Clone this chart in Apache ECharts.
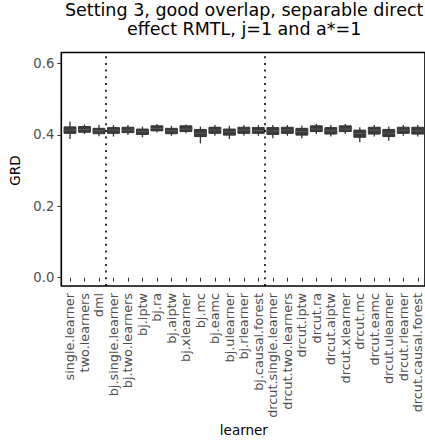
<!DOCTYPE html>
<html><head><meta charset="utf-8">
<script src="https://cdn.jsdelivr.net/npm/echarts@6/dist/echarts.min.js"></script>
<style>html,body{margin:0;padding:0;background:#fff}#c{width:425px;height:444px;overflow:hidden}</style>
</head><body><div id="c"></div><script>
const learners = ['single.learner','two.learners','dml','bj.single.learner','bj.two.learners','bj.iptw','bj.ra','bj.aiptw','bj.xlearner','bj.mc','bj.eamc','bj.ulearner','bj.rlearner','bj.causal.forest','drcut.single.learner','drcut.two.learners','drcut.iptw','drcut.ra','drcut.aiptw','drcut.xlearner','drcut.mc','drcut.eamc','drcut.ulearner','drcut.rlearner','drcut.causal.forest'];
const grdMin = [0.388,0.402,0.396,0.395,0.399,0.393,0.406,0.397,0.404,0.376,0.397,0.388,0.397,0.397,0.390,0.397,0.390,0.402,0.395,0.402,0.379,0.395,0.383,0.397,0.395];
const grdQ1  = [0.404,0.407,0.403,0.404,0.406,0.401,0.411,0.403,0.409,0.395,0.404,0.399,0.404,0.404,0.401,0.404,0.399,0.409,0.402,0.409,0.393,0.402,0.395,0.404,0.402];
const grdMed = [0.413,0.415,0.411,0.413,0.413,0.409,0.418,0.411,0.416,0.404,0.413,0.409,0.413,0.412,0.411,0.413,0.409,0.416,0.411,0.416,0.404,0.413,0.404,0.413,0.411];
const grdQ3  = [0.422,0.423,0.418,0.420,0.421,0.416,0.425,0.418,0.425,0.415,0.421,0.416,0.421,0.420,0.420,0.421,0.418,0.425,0.420,0.425,0.413,0.421,0.415,0.421,0.421];
const grdMax = [0.437,0.429,0.427,0.427,0.427,0.423,0.430,0.425,0.429,0.423,0.427,0.425,0.427,0.427,0.427,0.427,0.425,0.430,0.427,0.430,0.421,0.427,0.423,0.427,0.427];
const yMin = 0, yMax = 0.6, yStep = 0.2;
const separators = [2.5, 13.5];
const titleLines = ['Setting 3, good overlap, separable direct', 'effect RMTL, j=1 and a*=1'];
const xTitle = 'learner', yTitle = 'GRD';

const FONT = '"DejaVu Sans", sans-serif';
const TITLE_FONT = '17.5px ' + FONT;
const W = 425;
// frame geometry (ggplot panel with 0.6 expansion on a discrete axis)
const frameL = 61.3, frameR = 427, frameT = 52.5, frameB = 286;
const unit = (frameR - frameL) / (learners.length + 0.2);
const dataL = frameL + 0.1 * unit, dataR = dataL + learners.length * unit;
const dataT = 63.3, dataB = 277.7;

const boxData = learners.map((n, i) => [i, grdMin[i], grdQ1[i], grdMed[i], grdQ3[i], grdMax[i]]);

// title is centred on the panel; text running past the window edge is cut off (as in the reference)
const ctx = document.createElement('canvas').getContext('2d');
ctx.font = TITLE_FONT;
const titleCenter = (frameL + frameR) / 2;
function fitTitle(t) {
  const left = titleCenter - ctx.measureText(t).width / 2;
  let s = t;
  while (s.length && left + ctx.measureText(s).width > W - 1) s = s.slice(0, -1);
  return {text: s, left: left};
}

const chart = echarts.init(document.getElementById('c'), null, {renderer: 'svg'});
chart.setOption({
  animation: false,
  backgroundColor: '#fff',
  graphic: titleLines.map((t, k) => {
    const f = fitTitle(t);
    return {type: 'text', x: f.left, y: 1 + k * 18.5, silent: true,
      style: {text: f.text, fill: '#000', font: TITLE_FONT, textAlign: 'left', textVerticalAlign: 'top'}};
  }),
  grid: [
    {left: frameL, top: frameT, width: frameR - frameL, height: frameB - frameT, show: true, borderColor: '#000', borderWidth: 1.6, backgroundColor: 'transparent'},
    {left: dataL, top: dataT, width: dataR - dataL, height: dataB - dataT}
  ],
  xAxis: [
    {gridIndex: 0, type: 'value', min: -0.6, max: learners.length - 0.4, show: false},
    {gridIndex: 1, type: 'category', data: learners, boundaryGap: true, offset: frameB - dataB,
     axisLine: {show: false}, axisTick: {show: true, alignWithLabel: true, length: 4, lineStyle: {color: '#333', width: 1}},
     axisLabel: {rotate: 90, interval: 0, margin: 7, fontSize: 12.8, fontFamily: FONT, color: '#4d4d4d'},
     splitLine: {show: false},
     name: xTitle, nameLocation: 'middle', nameGap: 137, nameTextStyle: {fontSize: 13.5, fontFamily: FONT, color: '#000'}}
  ],
  yAxis: [
    {gridIndex: 0, type: 'value', min: 0, max: 1, show: false},
    {gridIndex: 1, type: 'value', min: yMin, max: yMax, interval: yStep, offset: dataL - frameL,
     axisLine: {show: false}, axisTick: {show: true, length: 4, lineStyle: {color: '#333', width: 1}},
     axisLabel: {margin: 7, fontSize: 13.2, fontFamily: FONT, color: '#4d4d4d', formatter: v => v.toFixed(1)},
     splitLine: {show: false},
     name: yTitle, nameLocation: 'middle', nameGap: 33, nameTextStyle: {fontSize: 13.5, fontFamily: FONT, color: '#000'}}
  ],
  series: [
    {type: 'line', xAxisIndex: 0, yAxisIndex: 0, data: [], silent: true,
     markLine: {silent: true, symbol: ['none', 'none'], label: {show: false},
       lineStyle: {color: '#000', type: [2, 4.7], width: 1.6},
       data: separators.map(s => ({xAxis: s}))}},
    {type: 'custom', xAxisIndex: 1, yAxisIndex: 1, data: boxData,
     encode: {x: 0, y: [1, 2, 3, 4, 5]},
     renderItem: function (params, api) {
       const i = api.value(0);
       const pMin = api.coord([i, api.value(1)]);
       const pQ1 = api.coord([i, api.value(2)]);
       const pMed = api.coord([i, api.value(3)]);
       const pQ3 = api.coord([i, api.value(4)]);
       const pMax = api.coord([i, api.value(5)]);
       const half = api.size([1, 0])[0] * 0.41;
       const x = pMed[0];
       return {type: 'group', children: [
         {type: 'line', shape: {x1: x, y1: pMax[1], x2: x, y2: pMin[1]}, style: {stroke: '#333', lineWidth: 1.3}},
         {type: 'rect', shape: {x: x - half, y: pQ3[1], width: 2 * half, height: pQ1[1] - pQ3[1]}, style: {fill: '#3a3a3a', stroke: '#333', lineWidth: 1}},
         {type: 'line', shape: {x1: x - half, y1: pMed[1], x2: x + half, y2: pMed[1]}, style: {stroke: '#585858', lineWidth: 1}}
       ]};
     }}
  ]
});
</script></body></html>
